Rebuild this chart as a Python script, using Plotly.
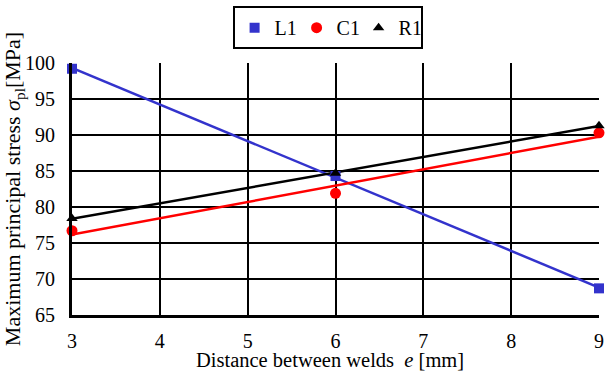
import numpy as np
import plotly.graph_objects as go

# Data
distance = [3, 6, 9]
l1 = [99.2, 84.3, 68.7]
c1 = [76.7, 81.9, 90.3]
r1 = [78.4, 84.7, 91.3]
series_names = ["L1", "C1", "R1"]
series_values = [l1, c1, r1]
colors = ["#3333CC", "#FF0000", "#000000"]
symbols = ["square", "circle", "triangle-up"]
marker_sizes = [10, 11, 10]
x_ticks = [3, 4, 5, 6, 7, 8, 9]
y_ticks = [65, 70, 75, 80, 85, 90, 95, 100]
x_title = "Distance between welds  <i>e</i> [mm]"
y_title = "Maximum principal stress <i>σ</i><sub>pl</sub>[MPa]"

FONT = "Liberation Serif, serif"

fig = go.Figure()

# Linear trend lines (fitted from the data)
for name, vals, col in zip(series_names, series_values, colors):
    k, b = np.polyfit(distance, vals, 1)
    xs = np.array([min(distance), max(distance)], dtype=float)
    fig.add_trace(go.Scatter(x=xs, y=k * xs + b, mode="lines",
                             line=dict(color=col, width=2.5), cliponaxis=False,
                             showlegend=False, hoverinfo="skip"))

# Data markers
for name, vals, col, sym, ms in zip(series_names, series_values, colors, symbols, marker_sizes):
    fig.add_trace(go.Scatter(x=distance, y=vals, mode="markers", name=name, cliponaxis=False,
                             marker=dict(color=col, symbol=sym, size=ms)))

fig.update_layout(
    width=609, height=371,
    margin=dict(l=72, r=10, t=63, b=56, autoexpand=False),
    paper_bgcolor="white", plot_bgcolor="white",
    font=dict(family=FONT, size=20, color="black"),
    legend=dict(orientation="h", x=0.485, xanchor="center", y=1.055, yanchor="bottom",
                bordercolor="black", borderwidth=2, font=dict(family=FONT, size=20),
                itemwidth=30, entrywidth=17, entrywidthmode="pixels", tracegroupgap=0),
    showlegend=True,
    annotations=[dict(text=x_title, xref="paper", yref="paper", x=0.49, y=-0.177,
                      xanchor="center", yanchor="middle", showarrow=False, borderpad=0,
                      font=dict(family=FONT, size=20.5))],
)
fig.update_xaxes(range=[3, 9], tickvals=x_ticks, showgrid=True, gridcolor="black", gridwidth=2,
                 showline=True, linecolor="black", linewidth=3, zeroline=False,
                 ticks="", ticklabelstandoff=6, automargin=False,
                 tickfont=dict(family=FONT, size=20))
fig.update_yaxes(range=[65, 100], tickvals=y_ticks, showgrid=True, gridcolor="black", gridwidth=2,
                 showline=True, linecolor="black", linewidth=3, zeroline=False,
                 ticks="", ticklabelstandoff=10, automargin=False,
                 tickfont=dict(family=FONT, size=20),
                 title=dict(text=y_title, standoff=3, font=dict(family=FONT, size=22)))

fig.write_html("out.html")
